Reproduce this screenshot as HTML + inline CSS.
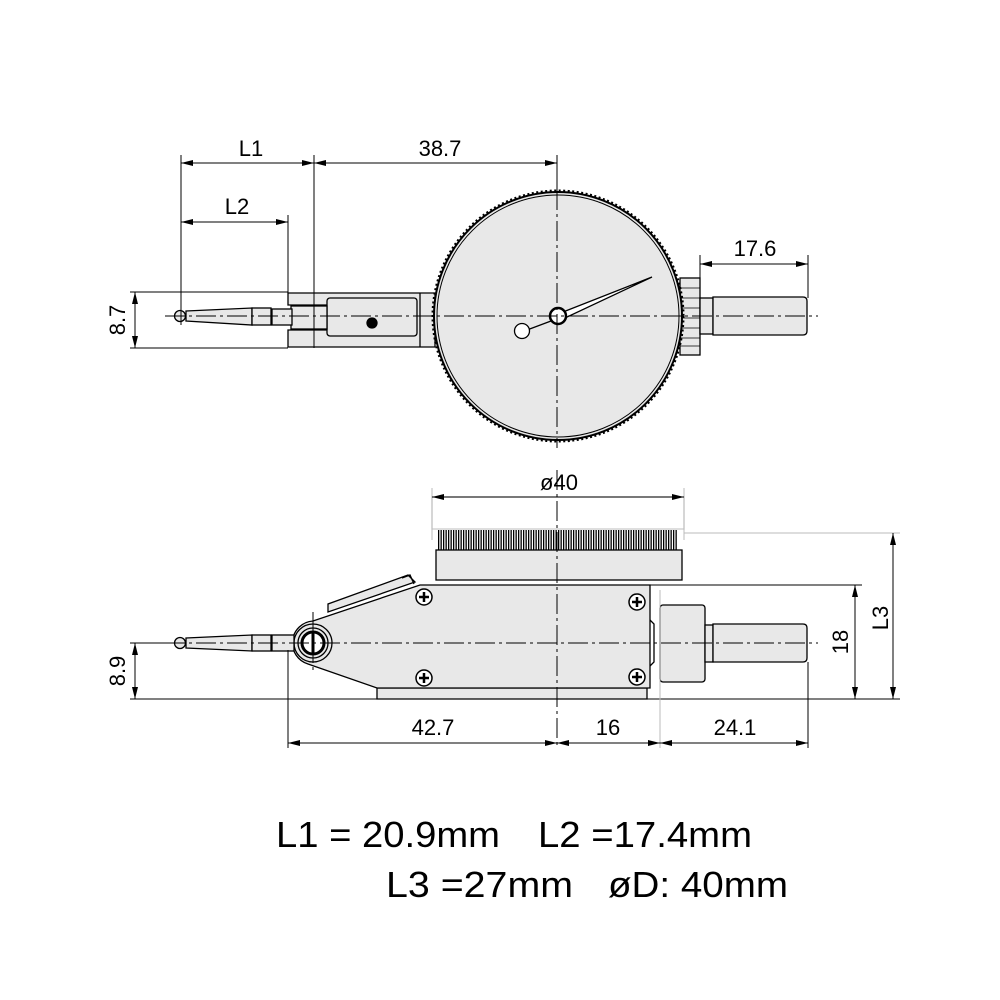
<!DOCTYPE html>
<html><head><meta charset="utf-8"><style>html,body{margin:0;padding:0;background:#fff}svg{display:block}</style></head>
<body>
<svg width="1000" height="1000" viewBox="0 0 1000 1000" xmlns="http://www.w3.org/2000/svg" font-family="Liberation Sans, sans-serif">
<defs>
<marker id="a" viewBox="0 0 12 6" refX="12" refY="3" markerWidth="12" markerHeight="6" orient="auto-start-reverse" markerUnits="userSpaceOnUse"><path d="M0,0L12,3L0,6z" fill="#000"/></marker>
</defs>
<g stroke="#000" stroke-width="1.3" fill="none">
<path d="M288,293H435V347H288V330H327V305H288Z" fill="#e8e8e8"/>
<rect x="327" y="298" width="90" height="38" rx="3" fill="#e8e8e8"/>
<line x1="420" y1="293" x2="420" y2="347"/>
<circle cx="372" cy="323" r="5" fill="#000"/>
<rect x="291" y="306" width="36" height="23" fill="#e8e8e8"/>
<rect x="272" y="309" width="20" height="16" fill="#e8e8e8"/>
<path d="M186,311L252,308V325L186,321Z" fill="#e8e8e8"/>
<rect x="252" y="308" width="19" height="17" fill="#e8e8e8"/>
<circle cx="180" cy="316" r="5.5" fill="#e8e8e8"/>
<rect x="680" y="278" width="20" height="77" fill="#e8e8e8"/>
<g stroke-width="0.8"><line x1="680" y1="288" x2="700" y2="288"/><line x1="680" y1="298" x2="700" y2="298"/><line x1="680" y1="308" x2="700" y2="308"/><line x1="680" y1="318" x2="700" y2="318"/><line x1="680" y1="328" x2="700" y2="328"/><line x1="680" y1="338" x2="700" y2="338"/><line x1="680" y1="346" x2="700" y2="346"/></g>
<rect x="700" y="298" width="13" height="36" fill="#e8e8e8"/>
<path d="M713,297H803Q807,297 807,301V331Q807,335 803,335H713Z" fill="#e8e8e8"/>
<circle cx="558" cy="316" r="124" fill="#e8e8e8" stroke-width="2"/>
<circle cx="558" cy="316" r="125" stroke-width="3" stroke-dasharray="2 2.5"/>
<circle cx="558" cy="316" r="121" stroke-width="1"/>
<path d="M563,312L652,277L565,318Z" fill="#fff"/>
<line x1="551" y1="321" x2="527" y2="330"/>
<circle cx="522" cy="331" r="7.5" fill="#fff"/>
<circle cx="558" cy="316" r="8" fill="#fff" stroke-width="2.5"/>
<g stroke-width="1" stroke-dasharray="20 4 3 4">
<line x1="165" y1="316" x2="818" y2="316"/>
<line x1="557" y1="190" x2="557" y2="448"/>
</g>
<g stroke-width="1">
<line x1="181" y1="155" x2="181" y2="325"/>
<line x1="314" y1="155" x2="314" y2="348"/>
<line x1="557" y1="155" x2="557" y2="192"/>
<line x1="288" y1="215" x2="288" y2="293"/>
<line x1="700" y1="255" x2="700" y2="278"/>
<line x1="808" y1="255" x2="808" y2="298"/>
<line x1="130" y1="292" x2="288" y2="292"/>
<line x1="130" y1="348" x2="288" y2="348"/>
<line x1="181" y1="163" x2="314" y2="163" marker-start="url(#a)" marker-end="url(#a)"/>
<line x1="314" y1="163" x2="557" y2="163" marker-start="url(#a)" marker-end="url(#a)"/>
<line x1="181" y1="222" x2="288" y2="222" marker-start="url(#a)" marker-end="url(#a)"/>
<line x1="700" y1="264" x2="808" y2="264" marker-start="url(#a)" marker-end="url(#a)"/>
<line x1="135" y1="292" x2="135" y2="348" marker-start="url(#a)" marker-end="url(#a)"/>
</g>
<rect x="432" y="497" width="252" height="32" stroke="#ccc" fill="#fff"/>
<rect x="436" y="550" width="246" height="30" fill="#e8e8e8"/>
<line x1="438" y1="540" x2="678" y2="540" stroke-width="20" stroke-dasharray="1.3 1.2"/>
<path d="M377,688H647V699H377Z" fill="#e8e8e8"/>
<path d="M420,585H650V688H377L308,664A22,22 0 0 1 313,621Z" fill="#e8e8e8"/>
<path d="M328,612L328,604L408,575L415,582Z" fill="#e8e8e8"/>
<path d="M402,578L410,575L414,584" fill="none"/>
<circle cx="313" cy="643" r="19" fill="#e8e8e8"/>
<circle cx="313" cy="643" r="15"/>
<circle cx="313" cy="643" r="11" stroke-width="3" fill="#fff"/>
<line x1="313" y1="632" x2="313" y2="654" stroke-width="3"/>
<g fill="#fff" stroke-width="1.5">
<circle cx="424" cy="597" r="8"/><circle cx="424" cy="678" r="8"/><circle cx="637" cy="602" r="8"/><circle cx="637" cy="677" r="8"/>
</g>
<g stroke-width="2.5"><path d="M419,597h10M424,592v10M419,678h10M424,673v10M632,602h10M637,597v10M632,677h10M637,672v10"/></g>
<path d="M650,620L654,624V662L650,666" />
<rect x="660" y="605" width="45" height="77" rx="3" fill="#e8e8e8"/>
<rect x="705" y="625" width="8" height="37" fill="#e8e8e8"/>
<path d="M713,624H803Q807,624 807,628V658Q807,662 803,662H713Z" fill="#e8e8e8"/>
<rect x="272" y="635" width="22" height="16" fill="#e8e8e8"/>
<path d="M186,638L252,635V651L186,648Z" fill="#e8e8e8"/>
<rect x="252" y="635" width="19" height="16" fill="#e8e8e8"/>
<circle cx="180" cy="643" r="5.5" fill="#e8e8e8"/>
<g stroke-width="1" stroke-dasharray="20 4 3 4">
<line x1="165" y1="643" x2="818" y2="643"/>
<line x1="557" y1="470" x2="557" y2="745"/>
<line x1="313" y1="612" x2="313" y2="674"/>
</g>
<g stroke-width="1">
<line x1="432" y1="488" x2="432" y2="540" stroke="#bbb"/>
<line x1="684" y1="488" x2="684" y2="540" stroke="#bbb"/>
<line x1="684" y1="533" x2="900" y2="533" stroke="#bbb"/>
<line x1="432" y1="497" x2="684" y2="497" marker-start="url(#a)" marker-end="url(#a)"/>
<line x1="650" y1="585" x2="862" y2="585"/>
<line x1="130" y1="699" x2="900" y2="699"/>
<line x1="130" y1="643" x2="175" y2="643"/>
<line x1="288" y1="650" x2="288" y2="748"/>
<line x1="660" y1="590" x2="660" y2="748" stroke="#bbb"/>
<line x1="808" y1="662" x2="808" y2="748"/>
<line x1="135" y1="643" x2="135" y2="699" marker-start="url(#a)" marker-end="url(#a)"/>
<line x1="855" y1="585" x2="855" y2="699" marker-start="url(#a)" marker-end="url(#a)"/>
<line x1="893" y1="533" x2="893" y2="699" marker-start="url(#a)" marker-end="url(#a)"/>
<line x1="288" y1="743" x2="557" y2="743" marker-start="url(#a)" marker-end="url(#a)"/>
<line x1="557" y1="743" x2="660" y2="743" marker-start="url(#a)" marker-end="url(#a)"/>
<line x1="660" y1="743" x2="808" y2="743" marker-start="url(#a)" marker-end="url(#a)"/>
</g>
</g>
<g font-size="22" fill="#000" text-anchor="middle">
<text x="251" y="156">L1</text>
<text x="440" y="156">38.7</text>
<text x="237" y="214">L2</text>
<text x="755" y="256">17.6</text>
<text x="559" y="490">ø40</text>
<text x="433" y="735">42.7</text>
<text x="608" y="735">16</text>
<text x="735" y="735">24.1</text>
<text transform="translate(125,320) rotate(-90)">8.7</text>
<text transform="translate(125,671) rotate(-90)">8.9</text>
<text transform="translate(848,642) rotate(-90)">18</text>
<text transform="translate(888,618) rotate(-90)">L3</text>
</g>
<g font-size="36" fill="#000">
<text x="276" y="847" textLength="224" lengthAdjust="spacingAndGlyphs">L1 = 20.9mm</text>
<text x="538" y="847" textLength="214" lengthAdjust="spacingAndGlyphs">L2 =17.4mm</text>
<text x="386" y="897" textLength="187" lengthAdjust="spacingAndGlyphs">L3 =27mm</text>
<text x="608" y="897" textLength="180" lengthAdjust="spacingAndGlyphs">øD: 40mm</text>
</g>
</svg>
</body></html>
